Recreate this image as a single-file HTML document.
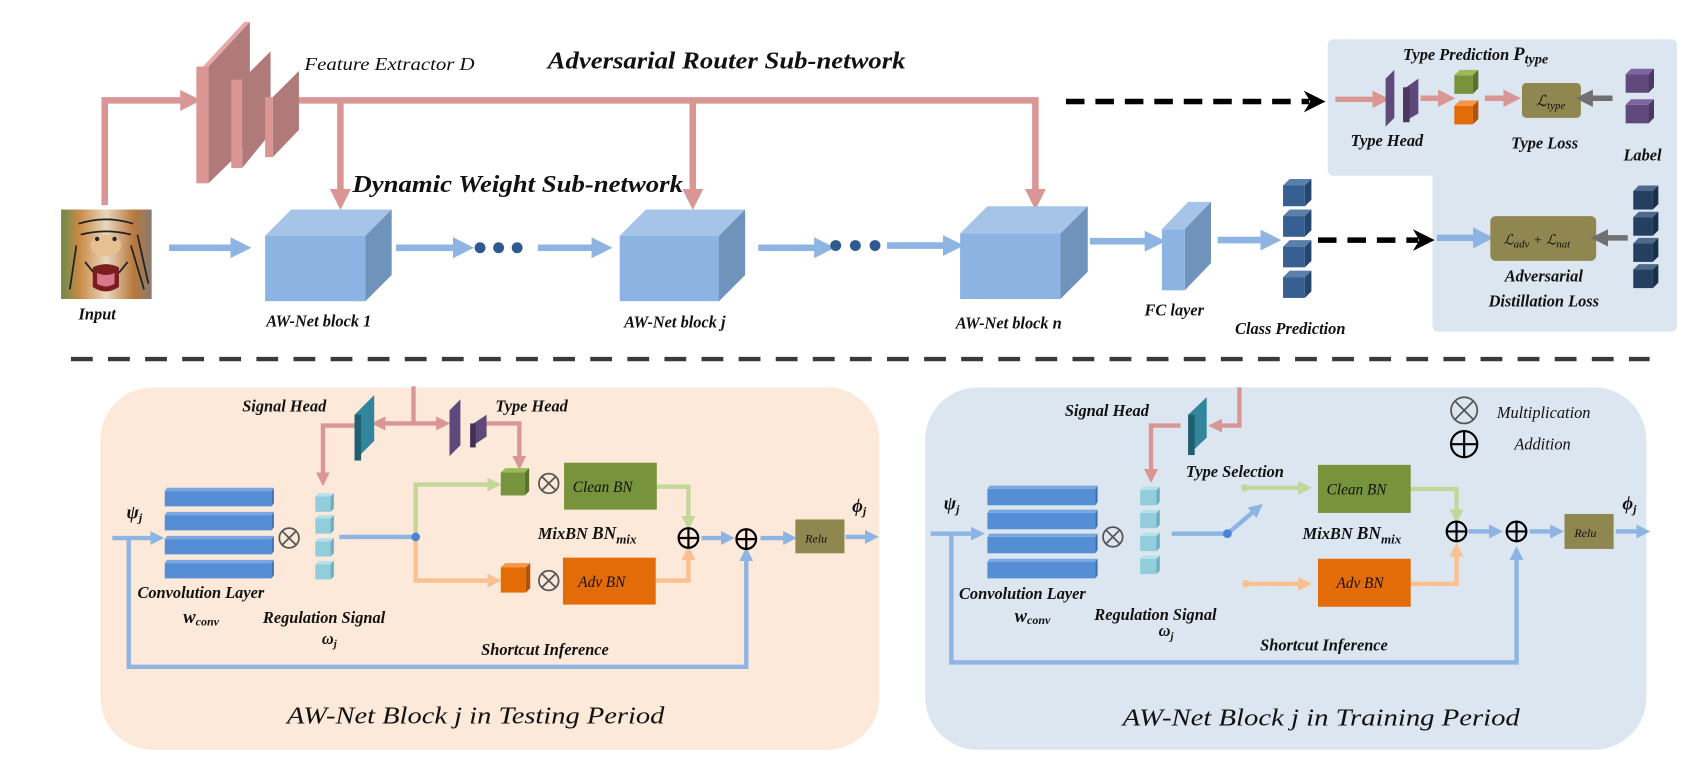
<!DOCTYPE html>
<html><head><meta charset="utf-8"><style>
html,body{margin:0;padding:0;background:#fff;width:1702px;height:777px;overflow:hidden}
svg{display:block}
text{font-family:"Liberation Serif",serif;font-style:italic;fill:#111}
</style></head><body>
<svg width="1702" height="777" viewBox="0 0 1560 712" preserveAspectRatio="none" xmlns="http://www.w3.org/2000/svg">
<defs>
<marker id="ab" viewBox="0 0 4 4" refX="1" refY="2" markerWidth="3.2" markerHeight="3.2" orient="auto"><path d="M0,0L4,2L0,4z" fill="#8db4e2"/></marker>
<marker id="ap" viewBox="0 0 4 4" refX="1" refY="2" markerWidth="3.2" markerHeight="3.2" orient="auto"><path d="M0,0L4,2L0,4z" fill="#d99694"/></marker>
<marker id="ag" viewBox="0 0 4 4" refX="1" refY="2" markerWidth="3.2" markerHeight="3.2" orient="auto"><path d="M0,0L4,2L0,4z" fill="#c3d69b"/></marker>
<marker id="ao" viewBox="0 0 4 4" refX="1" refY="2" markerWidth="3.2" markerHeight="3.2" orient="auto"><path d="M0,0L4,2L0,4z" fill="#fac090"/></marker>
<marker id="agr" viewBox="0 0 4 4" refX="1" refY="2" markerWidth="3.2" markerHeight="3.2" orient="auto"><path d="M0,0L4,2L0,4z" fill="#707070"/></marker>
<marker id="ak" viewBox="0 0 4 4" refX="1" refY="2" markerWidth="4" markerHeight="4" orient="auto"><path d="M0,0L4,2L0,4L1.2,2z" fill="#000"/></marker>
<linearGradient id="tg" x1="0" x2="1"><stop offset="0" stop-color="#6b8a4a"/><stop offset="0.2" stop-color="#c98a45"/><stop offset="0.5" stop-color="#e8d7c0"/><stop offset="0.8" stop-color="#b8793d"/><stop offset="1" stop-color="#8a7a70"/></linearGradient>
</defs>

<path d="M1222,36 H1532 a5,5 0 0 1 5,5 V299 a5,5 0 0 1 -5,5 H1318 a5,5 0 0 1 -5,-5 V161 H1222 a5,5 0 0 1 -5,-5 V41 a5,5 0 0 1 5,-5z" fill="#dce6f0"/>

<g fill="none" stroke="#d99694" stroke-width="6">
<polyline points="96,188 96,92 170,92" marker-end="url(#ap)"/>
<polyline points="270,92 949,92 949,178" marker-end="url(#ap)"/>
<line x1="312" y1="92" x2="312" y2="178" marker-end="url(#ap)"/>
<line x1="635" y1="92" x2="635" y2="178" marker-end="url(#ap)"/>
</g>
<polygon points="191,61 229,20 229,131 191,168" fill="#b07a78"/>
<polygon points="186,61 191,61 229,20 224,20" fill="#e5aaa8"/>
<rect x="180" y="61" width="11" height="107" fill="#d99694"/>
<polygon points="222,73 248,47 248,122 222,154" fill="#b07a78"/>
<rect x="212" y="73" width="10" height="81" fill="#d99694"/>
<polygon points="250,89 274,65 274,119 250,144" fill="#b07a78"/>
<rect x="243" y="89" width="7" height="55" fill="#d99694"/>

<text x="279" y="64" font-size="16" textLength="156" lengthAdjust="spacingAndGlyphs">Feature Extractor D</text>
<text x="502" y="63" font-size="22" font-weight="bold" textLength="328" lengthAdjust="spacingAndGlyphs">Adversarial Router Sub-network</text>
<text x="323" y="176" font-size="22" font-weight="bold" textLength="303" lengthAdjust="spacingAndGlyphs">Dynamic Weight Sub-network</text>

<rect x="56" y="192" width="83" height="82" fill="url(#tg)"/>
<g stroke="#222" stroke-width="1.6" fill="none">
<path d="M72,205 q25,-8 50,0"/><path d="M74,215 q23,-6 46,0"/><path d="M78,240 l8,10"/><path d="M117,240 l-8,10"/>
<path d="M120,225 l12,40"/><path d="M126,215 l10,45"/><path d="M70,225 l-6,40"/>
</g>
<ellipse cx="97" cy="225" rx="14" ry="10" fill="#e6c090"/>
<circle cx="89" cy="219" r="2" fill="#222"/><circle cx="105" cy="219" r="2" fill="#222"/>
<path d="M85,245 q12,-6 24,0 v18 q-12,8 -24,0z" fill="#7a1c20"/>
<path d="M89,250 q8,4 16,0 v10 q-8,5 -16,0z" fill="#d9788a"/>
<text x="72" y="293" font-size="15" font-weight="bold">Input</text>

<g fill="none" stroke="#8db4e2" stroke-width="6">
<line x1="155" y1="227" x2="216" y2="227" marker-end="url(#ab)"/>
<line x1="363" y1="227" x2="420" y2="227" marker-end="url(#ab)"/>
<line x1="493" y1="227" x2="547" y2="227" marker-end="url(#ab)"/>
<line x1="695" y1="227" x2="751" y2="227" marker-end="url(#ab)"/>
<line x1="813" y1="225" x2="869" y2="225" marker-end="url(#ab)"/>
<line x1="999" y1="221" x2="1054" y2="221" marker-end="url(#ab)"/>
<line x1="1116" y1="220" x2="1160" y2="220" marker-end="url(#ab)"/>
<line x1="1317" y1="218" x2="1355" y2="218" marker-end="url(#ab)"/>
</g>
<g fill="#2f5a8f">
<circle cx="440" cy="227" r="5"/><circle cx="457" cy="227" r="5"/><circle cx="474" cy="227" r="5"/>
<circle cx="766" cy="225" r="5"/><circle cx="784" cy="225" r="5"/><circle cx="802" cy="225" r="5"/>
</g>
<g>
<polygon points="243,216 267,192 359,192 335,216" fill="#a6c4e8"/><polygon points="335,216 359,192 359,252 335,276" fill="#6f93bb"/><rect x="243" y="216" width="92" height="60" fill="#8db3e2"/>
<polygon points="568,216 592,192 683,192 659,216" fill="#a6c4e8"/><polygon points="659,216 683,192 683,252 659,276" fill="#6f93bb"/><rect x="568" y="216" width="91" height="60" fill="#8db3e2"/>
<polygon points="880,214 905,189 997,189 972,214" fill="#a6c4e8"/><polygon points="972,214 997,189 997,249 972,274" fill="#6f93bb"/><rect x="880" y="214" width="92" height="60" fill="#8db3e2"/>
<polygon points="1065,210 1089,185 1110,185 1086,210" fill="#a6c4e8"/><polygon points="1086,210 1110,185 1110,241 1086,266" fill="#6f93bb"/><rect x="1065" y="210" width="21" height="56" fill="#8db3e2"/>
</g>
<g>
<g><polygon points="1176,170 1182,164 1202,164 1196,170" fill="#5a7fab"/><polygon points="1196,170 1202,164 1202,183 1196,189" fill="#27466e"/><rect x="1176" y="170" width="20" height="19" fill="#375f91"/></g>
<g transform="translate(0,28)"><polygon points="1176,170 1182,164 1202,164 1196,170" fill="#5a7fab"/><polygon points="1196,170 1202,164 1202,183 1196,189" fill="#27466e"/><rect x="1176" y="170" width="20" height="19" fill="#375f91"/></g>
<g transform="translate(0,56)"><polygon points="1176,170 1182,164 1202,164 1196,170" fill="#5a7fab"/><polygon points="1196,170 1202,164 1202,183 1196,189" fill="#27466e"/><rect x="1176" y="170" width="20" height="19" fill="#375f91"/></g>
<g transform="translate(0,84)"><polygon points="1176,170 1182,164 1202,164 1196,170" fill="#5a7fab"/><polygon points="1196,170 1202,164 1202,183 1196,189" fill="#27466e"/><rect x="1176" y="170" width="20" height="19" fill="#375f91"/></g>
</g>
<g font-size="15" font-weight="bold">
<text x="244" y="299">AW-Net block 1</text>
<text x="572" y="300">AW-Net block j</text>
<text x="876" y="301">AW-Net block n</text>
<text x="1049" y="289">FC layer</text>
<text x="1132" y="306">Class Prediction</text>
</g>
<g stroke="#000" stroke-width="5" stroke-dasharray="17,10" fill="none">
<line x1="977" y1="93" x2="1200" y2="93" marker-end="url(#ak)"/>
<line x1="1208" y1="220" x2="1300" y2="220" marker-end="url(#ak)"/>
</g>

<text x="1286" y="55" font-size="15" font-weight="bold">Type Prediction <tspan font-size="17">P</tspan><tspan font-size="13" dy="3">type</tspan></text>
<g fill="none" stroke="#d99694" stroke-width="5">
<line x1="1224" y1="91" x2="1262" y2="91" marker-end="url(#ap)"/>
<line x1="1302" y1="90" x2="1322" y2="90" marker-end="url(#ap)"/>
<line x1="1361" y1="90" x2="1382" y2="90" marker-end="url(#ap)"/>
</g>
<polygon points="1270,72 1278,64 1278,108 1270,116" fill="#5f497a"/><polygon points="1286,82 1300,72 1300,104 1286,112" fill="#5f497a"/><rect x="1286" y="80" width="6" height="32" fill="#4b3861"/>
<polygon points="1333,69 1338,64 1355,64 1350,69" fill="#9bbb59"/><rect x="1333" y="69" width="17" height="17" fill="#77933c"/><polygon points="1350,69 1355,64 1355,81 1350,86" fill="#5b7229"/>
<polygon points="1333,97 1338,92 1355,92 1350,97" fill="#f79646"/><rect x="1333" y="97" width="17" height="17" fill="#e36c09"/><polygon points="1350,97 1355,92 1355,109 1350,114" fill="#b0540a"/>
<rect x="1395" y="76" width="54" height="32" rx="4" fill="#8f8650"/>
<text x="1408" y="97" font-size="14">ℒ<tspan font-size="10" dy="3">type</tspan></text>
<line x1="1478" y1="90" x2="1456" y2="90" stroke="#707070" stroke-width="5" marker-end="url(#agr)"/>
<g><polygon points="1490,68 1495,63 1516,63 1511,68" fill="#8064a2"/><rect x="1490" y="68" width="21" height="17" fill="#604a7b"/><polygon points="1511,68 1516,63 1516,80 1511,85" fill="#4b3861"/></g>
<g transform="translate(0,28)"><polygon points="1490,68 1495,63 1516,63 1511,68" fill="#8064a2"/><rect x="1490" y="68" width="21" height="17" fill="#604a7b"/><polygon points="1511,68 1516,63 1516,80 1511,85" fill="#4b3861"/></g>
<g font-size="15" font-weight="bold">
<text x="1238" y="134">Type Head</text>
<text x="1385" y="136">Type Loss</text>
<text x="1488" y="147">Label</text>
<text x="1415" y="258" text-anchor="middle">Adversarial</text>
<text x="1415" y="281" text-anchor="middle">Distillation Loss</text>
</g>
<rect x="1366" y="198" width="97" height="41" rx="5" fill="#8f8650"/>
<text x="1378" y="224" font-size="13">ℒ<tspan font-size="10" dy="3">adv</tspan><tspan dy="-3"> + ℒ</tspan><tspan font-size="10" dy="3">nat</tspan></text>
<line x1="1492" y1="218" x2="1470" y2="218" stroke="#707070" stroke-width="5" marker-end="url(#agr)"/>
<g>
<g><polygon points="1497,175 1502,170 1520,170 1515,175" fill="#4f6a8c"/><rect x="1497" y="175" width="18" height="17" fill="#243f60"/><polygon points="1515,175 1520,170 1520,187 1515,192" fill="#1a2f48"/></g>
<g transform="translate(0,24)"><polygon points="1497,175 1502,170 1520,170 1515,175" fill="#4f6a8c"/><rect x="1497" y="175" width="18" height="17" fill="#243f60"/><polygon points="1515,175 1520,170 1520,187 1515,192" fill="#1a2f48"/></g>
<g transform="translate(0,48)"><polygon points="1497,175 1502,170 1520,170 1515,175" fill="#4f6a8c"/><rect x="1497" y="175" width="18" height="17" fill="#243f60"/><polygon points="1515,175 1520,170 1520,187 1515,192" fill="#1a2f48"/></g>
<g transform="translate(0,72)"><polygon points="1497,175 1502,170 1520,170 1515,175" fill="#4f6a8c"/><rect x="1497" y="175" width="18" height="17" fill="#243f60"/><polygon points="1515,175 1520,170 1520,187 1515,192" fill="#1a2f48"/></g>
</g>

<line x1="65" y1="329" x2="1512" y2="329" stroke="#3a3a3a" stroke-width="4" stroke-dasharray="20,14"/>

<rect x="92" y="355" width="714" height="332" rx="48" fill="#fde9d9"/>
<g fill="none" stroke="#d99694" stroke-width="4">
<line x1="379" y1="354" x2="379" y2="388"/>
<line x1="360" y1="388" x2="350" y2="388" marker-end="url(#ap)"/>
<line x1="398" y1="388" x2="403" y2="388" marker-end="url(#ap)"/>
<line x1="355" y1="388" x2="405" y2="388"/>
<polyline points="325,390 296,390 296,436" marker-end="url(#ap)"/>
<polyline points="446,388 476,388 476,421" marker-end="url(#ap)"/>
</g>
<polygon points="325,380 343,362 343,404 325,422" fill="#31859c"/><rect x="325" y="380" width="6" height="42" fill="#215f70"/>
<polygon points="412,376 422,366 422,408 412,418" fill="#5f497a"/><polygon points="431,390 446,380 446,400 431,410" fill="#5f497a"/><rect x="431" y="388" width="5" height="22" fill="#403152"/>
<g>
<g><rect x="151" y="450" width="98" height="14" fill="#558ed5"/><polygon points="151,450 153,447 251,447 249,450" fill="#7aa7de"/><polygon points="249,450 251,447 251,461 249,464" fill="#3a6fb0"/></g>
<g transform="translate(0,22)"><rect x="151" y="450" width="98" height="14" fill="#558ed5"/><polygon points="151,450 153,447 251,447 249,450" fill="#7aa7de"/><polygon points="249,450 251,447 251,461 249,464" fill="#3a6fb0"/></g>
<g transform="translate(0,44)"><rect x="151" y="450" width="98" height="14" fill="#558ed5"/><polygon points="151,450 153,447 251,447 249,450" fill="#7aa7de"/><polygon points="249,450 251,447 251,461 249,464" fill="#3a6fb0"/></g>
<g transform="translate(0,66)"><rect x="151" y="450" width="98" height="14" fill="#558ed5"/><polygon points="151,450 153,447 251,447 249,450" fill="#7aa7de"/><polygon points="249,450 251,447 251,461 249,464" fill="#3a6fb0"/></g>
</g>
<g>
<g><rect x="289" y="455" width="14" height="14" fill="#92cddc"/><polygon points="303,455 306,452 306,466 303,469" fill="#6aaec0"/><polygon points="289,455 292,452 306,452 303,455" fill="#b6e0ea"/></g>
<g transform="translate(0,20)"><rect x="289" y="455" width="14" height="14" fill="#92cddc"/><polygon points="303,455 306,452 306,466 303,469" fill="#6aaec0"/><polygon points="289,455 292,452 306,452 303,455" fill="#b6e0ea"/></g>
<g transform="translate(0,41)"><rect x="289" y="455" width="14" height="14" fill="#92cddc"/><polygon points="303,455 306,452 306,466 303,469" fill="#6aaec0"/><polygon points="289,455 292,452 306,452 303,455" fill="#b6e0ea"/></g>
<g transform="translate(0,62)"><rect x="289" y="455" width="14" height="14" fill="#92cddc"/><polygon points="303,455 306,452 306,466 303,469" fill="#6aaec0"/><polygon points="289,455 292,452 306,452 303,455" fill="#b6e0ea"/></g>
</g>
<g fill="none" stroke-width="4">
<polyline points="381,492 381,444 450,444" stroke="#c3d69b" marker-end="url(#ag)"/>
<polyline points="381,492 381,532 450,532" stroke="#fac090" marker-end="url(#ao)"/>
<polyline points="602,446 631,446 631,476" stroke="#c3d69b" marker-end="url(#ag)"/>
<polyline points="601,532 631,532 631,510" stroke="#fac090" marker-end="url(#ao)"/>
</g>
<g fill="none" stroke="#8db4e2" stroke-width="4">
<line x1="311" y1="492" x2="381" y2="492"/>
<line x1="103" y1="493" x2="141" y2="493" marker-end="url(#ab)"/>
<polyline points="118,493 118,611 684,611 684,511" marker-end="url(#ab)"/>
<line x1="643" y1="493" x2="664" y2="493" marker-end="url(#ab)"/>
<line x1="697" y1="493" x2="721" y2="493" marker-end="url(#ab)"/>
<line x1="775" y1="492" x2="796" y2="492" marker-end="url(#ab)"/>
</g>
<circle cx="381" cy="492" r="4" fill="#4a86d8"/>
<polygon points="459,433 463,429 485,429 481,433" fill="#9bbb59"/><rect x="459" y="433" width="22" height="21" fill="#77933c"/><polygon points="481,433 485,429 485,450 481,454" fill="#5b7229"/>
<polygon points="459,520 463,516 486,516 482,520" fill="#f79646"/><rect x="459" y="520" width="23" height="23" fill="#e36c09"/><polygon points="482,520 486,516 486,539 482,543" fill="#b0540a"/>
<rect x="517" y="424" width="85" height="43" fill="#77933c"/>
<rect x="516" y="511" width="85" height="43" fill="#e36c09"/>
<rect x="729" y="476" width="45" height="31" fill="#8f8650"/>
<g fill="none" stroke="#555" stroke-width="1.6">
<circle cx="503" cy="443" r="9"/><path d="M496.6,436.6L509.4,449.4M509.4,436.6L496.6,449.4"/>
<circle cx="503" cy="532" r="9"/><path d="M496.6,525.6L509.4,538.4M509.4,525.6L496.6,538.4"/>
<circle cx="265" cy="493" r="9"/><path d="M258.6,486.6L271.4,499.4M271.4,486.6L258.6,499.4"/>
</g>
<g fill="none" stroke="#000" stroke-width="2">
<circle cx="631" cy="493" r="9"/><path d="M622,493H640M631,484V502"/>
<circle cx="684" cy="494" r="9"/><path d="M675,494H693M684,485V503"/>
</g>
<g font-size="15" font-weight="bold">
<text x="222" y="377">Signal Head</text>
<text x="454" y="377">Type Head</text>
<text x="493" y="494">MixBN <tspan font-size="16">BN</tspan><tspan font-size="12" dy="4">mix</tspan></text>
<text x="126" y="548">Convolution Layer</text>
<text x="168" y="571" font-size="17">w<tspan font-size="11" dy="2">conv</tspan></text>
<text x="241" y="571">Regulation Signal</text>
<text x="295" y="590">ω<tspan font-size="10" dy="3">j</tspan></text>
<text x="441" y="600">Shortcut Inference</text>
<text x="116" y="475" font-size="17">ψ<tspan font-size="11" dy="3">j</tspan></text>
<text x="781" y="469" font-size="17">ϕ<tspan font-size="11" dy="3">j</tspan></text>
</g>
<text x="525" y="451" font-size="14">Clean BN</text>
<text x="530" y="538" font-size="14">Adv BN</text>
<text x="738" y="497" font-size="11">Relu</text>
<text x="263" y="663" font-size="22" textLength="346" lengthAdjust="spacingAndGlyphs">AW-Net Block j  in Testing Period</text>

<rect x="848" y="355" width="661" height="332" rx="48" fill="#dce6f0"/>
<g fill="none" stroke="#d99694" stroke-width="4">
<polyline points="1136,355 1136,390 1117,390" marker-end="url(#ap)"/>
<polyline points="1082,390 1055,390 1055,433" marker-end="url(#ap)"/>
</g>
<polygon points="1089,380 1106,364 1106,401 1089,417" fill="#31859c"/><rect x="1089" y="380" width="6" height="37" fill="#215f70"/>
<g>
<g><rect x="905" y="448" width="99" height="15" fill="#558ed5"/><polygon points="905,448 907,445 1006,445 1004,448" fill="#7aa7de"/><polygon points="1004,448 1006,445 1006,460 1004,463" fill="#3a6fb0"/></g>
<g transform="translate(0,22)"><rect x="905" y="448" width="99" height="15" fill="#558ed5"/><polygon points="905,448 907,445 1006,445 1004,448" fill="#7aa7de"/><polygon points="1004,448 1006,445 1006,460 1004,463" fill="#3a6fb0"/></g>
<g transform="translate(0,44)"><rect x="905" y="448" width="99" height="15" fill="#558ed5"/><polygon points="905,448 907,445 1006,445 1004,448" fill="#7aa7de"/><polygon points="1004,448 1006,445 1006,460 1004,463" fill="#3a6fb0"/></g>
<g transform="translate(0,67)"><rect x="905" y="448" width="99" height="15" fill="#558ed5"/><polygon points="905,448 907,445 1006,445 1004,448" fill="#7aa7de"/><polygon points="1004,448 1006,445 1006,460 1004,463" fill="#3a6fb0"/></g>
</g>
<g>
<g><rect x="1045" y="449" width="15" height="14" fill="#92cddc"/><polygon points="1060,449 1063,446 1063,460 1060,463" fill="#6aaec0"/><polygon points="1045,449 1048,446 1063,446 1060,449" fill="#b6e0ea"/></g>
<g transform="translate(0,21)"><rect x="1045" y="449" width="15" height="14" fill="#92cddc"/><polygon points="1060,449 1063,446 1063,460 1060,463" fill="#6aaec0"/><polygon points="1045,449 1048,446 1063,446 1060,449" fill="#b6e0ea"/></g>
<g transform="translate(0,42)"><rect x="1045" y="449" width="15" height="14" fill="#92cddc"/><polygon points="1060,449 1063,446 1063,460 1060,463" fill="#6aaec0"/><polygon points="1045,449 1048,446 1063,446 1060,449" fill="#b6e0ea"/></g>
<g transform="translate(0,63)"><rect x="1045" y="449" width="15" height="14" fill="#92cddc"/><polygon points="1060,449 1063,446 1063,460 1060,463" fill="#6aaec0"/><polygon points="1045,449 1048,446 1063,446 1060,449" fill="#b6e0ea"/></g>
</g>
<g fill="none" stroke-width="4">
<line x1="1141" y1="447" x2="1193" y2="447" stroke="#c3d69b" marker-end="url(#ag)"/>
<line x1="1142" y1="535" x2="1193" y2="535" stroke="#fac090" marker-end="url(#ao)"/>
<polyline points="1293,448 1335,448 1335,470" stroke="#c3d69b" marker-end="url(#ag)"/>
<polyline points="1293,535 1335,535 1335,507" stroke="#fac090" marker-end="url(#ao)"/>
</g>
<circle cx="1141" cy="447" r="3.5" fill="#c3d69b"/><circle cx="1142" cy="535" r="3.5" fill="#fac090"/>
<g fill="none" stroke="#8db4e2" stroke-width="4">
<line x1="1074" y1="489" x2="1125" y2="489"/>
<line x1="1125" y1="489" x2="1150" y2="468" marker-end="url(#ab)"/>
<line x1="853" y1="489" x2="893" y2="489" marker-end="url(#ab)"/>
<polyline points="872,489 872,607 1390,607 1390,510" marker-end="url(#ab)"/>
<line x1="1346" y1="487" x2="1368" y2="487" marker-end="url(#ab)"/>
<line x1="1402" y1="487" x2="1424" y2="487" marker-end="url(#ab)"/>
<line x1="1481" y1="487" x2="1503" y2="487" marker-end="url(#ab)"/>
</g>
<circle cx="1125" cy="489" r="4" fill="#4a86d8"/>
<rect x="1208" y="426" width="85" height="44" fill="#77933c"/>
<rect x="1208" y="512" width="85" height="44" fill="#e36c09"/>
<rect x="1434" y="471" width="45" height="32" fill="#8f8650"/>
<g fill="none" stroke="#555" stroke-width="1.6">
<circle cx="1020" cy="492" r="9"/><path d="M1013.6,485.6L1026.4,498.4M1026.4,485.6L1013.6,498.4"/>
<circle cx="1342" cy="376" r="12"/><path d="M1333.5,367.5L1350.5,384.5M1350.5,367.5L1333.5,384.5"/>
</g>
<g fill="none" stroke="#000" stroke-width="2">
<circle cx="1335" cy="487" r="9"/><path d="M1326,487H1344M1335,478V496"/>
<circle cx="1390" cy="487" r="9"/><path d="M1381,487H1399M1390,478V496"/>
<circle cx="1342" cy="407" r="12"/><path d="M1330,407H1354M1342,395V419"/>
</g>
<g font-size="15" font-weight="bold">
<text x="976" y="381">Signal Head</text>
<text x="1087" y="437">Type Selection</text>
<text x="1194" y="494">MixBN <tspan font-size="16">BN</tspan><tspan font-size="12" dy="4">mix</tspan></text>
<text x="879" y="549">Convolution Layer</text>
<text x="930" y="570" font-size="17">w<tspan font-size="11" dy="2">conv</tspan></text>
<text x="1003" y="568">Regulation Signal</text>
<text x="1062" y="583">ω<tspan font-size="10" dy="3">j</tspan></text>
<text x="1155" y="596">Shortcut Inference</text>
<text x="865" y="467" font-size="17">ψ<tspan font-size="11" dy="3">j</tspan></text>
<text x="1487" y="467" font-size="17">ϕ<tspan font-size="11" dy="3">j</tspan></text>
</g>
<text x="1372" y="383" font-size="15">Multiplication</text>
<text x="1388" y="412" font-size="15">Addition</text>
<text x="1216" y="453" font-size="14">Clean BN</text>
<text x="1225" y="539" font-size="14">Adv BN</text>
<text x="1443" y="492" font-size="11">Relu</text>
<text x="1029" y="665" font-size="22" textLength="364" lengthAdjust="spacingAndGlyphs">AW-Net Block j  in Training Period</text>
</svg>
</body></html>
